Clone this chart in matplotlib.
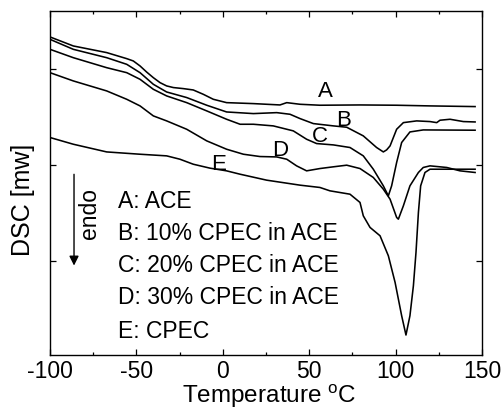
import matplotlib
matplotlib.use("Agg")
import matplotlib.pyplot as plt

plt.rcParams['font.family'] = ['Liberation Sans', 'DejaVu Sans']
plt.rcParams['mathtext.fontset'] = 'custom'
plt.rcParams['mathtext.rm'] = 'Liberation Sans'
plt.rcParams['axes.unicode_minus'] = False

# DSC heating traces (temperature in °C, heat flow in arbitrary mW units)
temp_a = [-100, -86.5, -67.2, -55.6, -51.8, -47.9, -44.1, -40.2, -36.3, -32.5, -28.6, -22.8,
          -17.1, -11.3, -5.5, 2.2, 17.7, 33.1, 37.0, 44.7, 56.2, 79.4, 100.6, 119.9, 146.0]
dsc_a = [3.330, 3.236, 3.167, 3.104, 3.080, 3.028, 2.965, 2.906, 2.854, 2.820, 2.803, 2.792,
         2.778, 2.733, 2.681, 2.646, 2.636, 2.622, 2.646, 2.629, 2.619, 2.622, 2.619, 2.612,
         2.605]

temp_b = [-100, -86.5, -67.2, -55.6, -47.9, -40.2, -32.5, -20.9, -9.3, 2.2, 17.7, 31.2,
          38.9, 44.7, 52.4, 64.0, 71.7, 81.3, 89.0, 92.9, 94.8, 96.8, 100.6, 104.5,
          112.2, 119.9, 123.8, 125.7, 131.5, 139.2, 146.0]
dsc_b = [3.305, 3.201, 3.114, 3.045, 2.958, 2.837, 2.757, 2.699, 2.619, 2.549, 2.532, 2.542,
         2.525, 2.480, 2.428, 2.404, 2.390, 2.300, 2.179, 2.133, 2.154, 2.196, 2.369, 2.438,
         2.456, 2.449, 2.438, 2.463, 2.473, 2.449, 2.445]

temp_c = [-100, -86.5, -67.2, -55.6, -47.9, -40.2, -32.5, -20.9, -9.3, 2.2, 10.0, 17.7,
          29.2, 40.8, 48.5, 54.3, 64.0, 73.6, 81.3, 87.1, 92.9, 95.8, 97.7, 100.6,
          103.5, 108.3, 116.0, 146.0]
dsc_c = [3.201, 3.114, 3.010, 2.958, 2.889, 2.785, 2.716, 2.646, 2.560, 2.473, 2.421, 2.421,
         2.404, 2.352, 2.265, 2.220, 2.206, 2.179, 2.092, 1.953, 1.780, 1.676, 1.780, 2.023,
         2.231, 2.341, 2.362, 2.359]

temp_d = [-100, -86.5, -67.2, -55.6, -47.9, -40.2, -32.5, -20.9, -9.3, 2.2, 11.9, 21.5,
          31.2, 37.0, 42.7, 48.5, 56.2, 64.0, 71.7, 79.4, 87.1, 92.9, 96.8, 100.6,
          101.6, 104.5, 108.3, 113.2, 116.0, 119.9, 129.6, 137.3, 146.0]
dsc_d = [2.958, 2.872, 2.768, 2.681, 2.612, 2.508, 2.456, 2.369, 2.248, 2.161, 2.109, 2.085,
         2.081, 2.057, 1.988, 1.936, 1.960, 1.978, 1.995, 1.960, 1.867, 1.745, 1.641, 1.451,
         1.433, 1.572, 1.780, 1.919, 1.971, 1.988, 1.971, 1.936, 1.919]

temp_e = [-100, -86.5, -67.2, -47.9, -32.5, -24.8, -17.1, -7.4, 2.2, 10.0, 25.4, 44.7,
          56.2, 62.0, 73.6, 79.4, 81.3, 85.2, 91.0, 95.8, 99.7, 103.5, 106.0, 108.3,
          110.3, 111.8, 113.2, 114.5, 117.0, 119.9, 146.0]
dsc_e = [2.283, 2.213, 2.133, 2.109, 2.092, 2.057, 2.005, 1.964, 1.936, 1.901, 1.839, 1.787,
         1.763, 1.728, 1.693, 1.607, 1.468, 1.347, 1.260, 1.052, 0.775, 0.428, 0.227, 0.428,
         0.740, 1.087, 1.503, 1.780, 1.919, 1.953, 1.953]

curve_letters = ['A', 'B', 'C', 'D', 'E']
letter_pos_t = [59.1, 69.8, 55.9, 33.1, -2.6]
letter_pos_y = [2.768, 2.466, 2.300, 2.157, 2.016]

legend_lines = ['A: ACE', 'B: 10% CPEC in ACE', 'C: 20% CPEC in ACE',
                'D: 30% CPEC in ACE', 'E: CPEC']
legend_y = [1.624, 1.295, 0.965, 0.626, 0.272]

xticks = [-100, -50, 0, 50, 100, 150]

fig = plt.figure(figsize=(5.02, 4.10), dpi=100)
ax = fig.add_axes([50 / 502, 1 - 356 / 410, 432 / 502, 344 / 410])

for t, y in [(temp_a, dsc_a), (temp_b, dsc_b), (temp_c, dsc_c),
             (temp_d, dsc_d), (temp_e, dsc_e)]:
    ax.plot(t, y, color='black', lw=1.15, solid_joinstyle='round')

for lab, t, y in zip(curve_letters, letter_pos_t, letter_pos_y):
    ax.text(t, y, lab, fontsize=16, ha='center', va='center')

for line, y in zip(legend_lines, legend_y):
    ax.text(-60.5, y, line, fontsize=16.5, ha='left', va='center')

# endothermic direction marker
ax.annotate('', xy=(-86.1, 0.95), xytext=(-86.1, 1.90),
            arrowprops=dict(arrowstyle='-|>', color='black', lw=1.0,
                            mutation_scale=14, shrinkA=0, shrinkB=0))
ax.text(-76.9, 1.50, 'endo', rotation=90, fontsize=16.5, ha='center', va='center')

ax.set_xlim(-100, 150)
ax.set_ylim(0.019, 3.60)
ax.set_xticks(xticks)
ax.set_xticklabels([str(v) for v in xticks], fontsize=16.5)
ax.set_xticks([-75, -25, 25, 75, 125], minor=True)
ax.set_yticks([1, 2, 3])
ax.set_yticklabels([])
ax.tick_params(which='both', direction='in', top=True, right=True, width=0.9)
ax.tick_params(which='major', length=4.5, pad=3.0)
ax.tick_params(which='minor', length=2.5)
for s in ax.spines.values():
    s.set_linewidth(1.0)

fig.text(269 / 502, 1 - 403 / 410, r'Temperature $^{\mathrm{o}}$C', fontsize=17.5,
         ha='center', va='baseline')
fig.text(23 / 502, 1 - 200 / 410, 'DSC [mw]', fontsize=18, rotation=90,
         ha='center', va='center')

fig.savefig('out.png', dpi=100)
